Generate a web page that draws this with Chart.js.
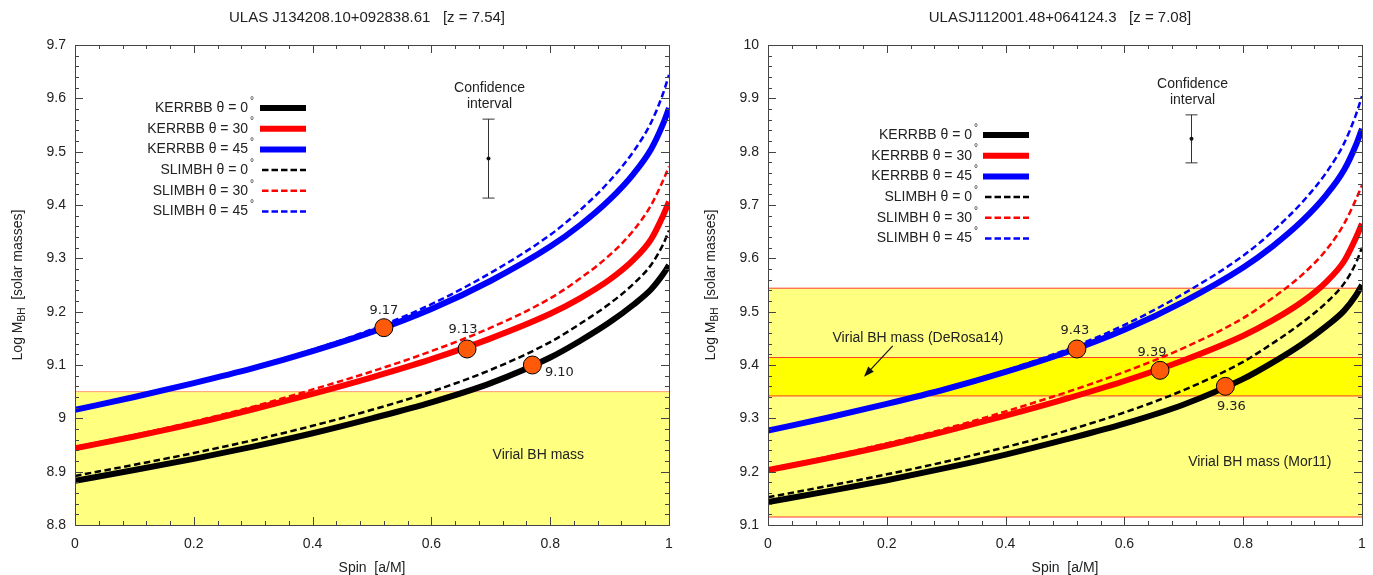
<!DOCTYPE html>
<html>
<head>
<meta charset="utf-8">
<script src="https://cdn.jsdelivr.net/npm/chart.js@4.4.0/dist/chart.umd.min.js"></script>
<style>
  html, body { margin: 0; padding: 0; background: #fff; }
  #wrap { display: flex; width: 1373px; height: 575px; }
  .panel { position: relative; height: 575px; }
</style>
</head>
<body>
<div id="wrap">
  <div class="panel" style="width:686px"><canvas id="left"></canvas></div>
  <div class="panel" style="width:687px"><canvas id="right"></canvas></div>
</div>
<script>
// spin grid shared by every model curve
const spin = [0, 0.1, 0.2, 0.3, 0.4, 0.5, 0.6, 0.7, 0.8, 0.85, 0.9, 0.94, 0.97, 0.99, 1];

const modelNames = ['KERRBB', 'KERRBB', 'KERRBB', 'SLIMBH', 'SLIMBH', 'SLIMBH'];
const inclinations = [0, 30, 45, 0, 30, 45];

// ULAS J134208.10+092838.61
const j1342Kerr0  = [8.883, 8.903, 8.924, 8.947, 8.972, 9.000, 9.030, 9.066, 9.114, 9.145, 9.180, 9.213, 9.242, 9.270, 9.287];
const j1342Kerr30 = [8.944, 8.966, 8.990, 9.017, 9.046, 9.077, 9.111, 9.150, 9.196, 9.225, 9.260, 9.297, 9.336, 9.380, 9.406];
const j1342Kerr45 = [9.016, 9.040, 9.066, 9.094, 9.126, 9.162, 9.205, 9.258, 9.322, 9.362, 9.410, 9.458, 9.505, 9.552, 9.582];
const j1342Slim0  = [8.892, 8.913, 8.935, 8.959, 8.986, 9.016, 9.050, 9.091, 9.143, 9.177, 9.215, 9.252, 9.288, 9.326, 9.352];
const j1342Slim30 = [8.946, 8.969, 8.994, 9.022, 9.054, 9.088, 9.126, 9.170, 9.225, 9.262, 9.306, 9.352, 9.400, 9.446, 9.472];
const j1342Slim45 = [9.016, 9.041, 9.067, 9.096, 9.129, 9.167, 9.214, 9.273, 9.344, 9.390, 9.445, 9.500, 9.555, 9.609, 9.644];
const j1342VirialTop = 9.05;
const j1342Conf = { spin: 0.695, mass: 9.487, half: 0.074 };

// ULASJ112001.48+064124.3
const j1120Kerr0  = [9.143, 9.163, 9.184, 9.207, 9.232, 9.260, 9.290, 9.326, 9.374, 9.405, 9.440, 9.473, 9.502, 9.531, 9.550];
const j1120Kerr30 = [9.203, 9.225, 9.249, 9.276, 9.305, 9.336, 9.370, 9.409, 9.455, 9.484, 9.519, 9.556, 9.595, 9.639, 9.665];
const j1120Kerr45 = [9.277, 9.301, 9.327, 9.355, 9.387, 9.423, 9.466, 9.519, 9.583, 9.623, 9.671, 9.719, 9.766, 9.813, 9.843];
const j1120Slim0  = [9.152, 9.173, 9.195, 9.219, 9.246, 9.276, 9.311, 9.353, 9.406, 9.441, 9.480, 9.517, 9.553, 9.592, 9.620];
const j1120Slim30 = [9.205, 9.228, 9.253, 9.281, 9.313, 9.348, 9.387, 9.432, 9.488, 9.526, 9.570, 9.616, 9.665, 9.711, 9.737];
const j1120Slim45 = [9.278, 9.302, 9.328, 9.357, 9.390, 9.428, 9.475, 9.534, 9.605, 9.651, 9.706, 9.761, 9.816, 9.870, 9.904];
const j1120Mor11    = [9.115, 9.544];
const j1120DeRosa14 = [9.342, 9.414];
const j1120Conf = { spin: 0.712, mass: 9.824, half: 0.045 };

// best-fit spins and masses (orange dots)
const peakSpin  = [0.52, 0.66, 0.77];
const j1342Peak = [9.17, 9.13, 9.10];
const j1120Peak = [9.43, 9.39, 9.36];

const curveColors = ['#000000', '#ff0000', '#0000ff', '#000000', '#ff0000', '#0000ff'];
const FONT = '"Liberation Sans", Arial, sans-serif';

const panels = [
  {
    id: 'left',
    title: 'ULAS J134208.10+092838.61   [z = 7.54]',
    yMin: 8.8, yMax: 9.7, yWidth: 75, padRight: 17,
    curves: [j1342Kerr0, j1342Kerr30, j1342Kerr45, j1342Slim0, j1342Slim30, j1342Slim45],
    peaks: j1342Peak,
    peakLabelOffset: [[0, -17], [-4, -19], [27, 8]],
    bands: [{ lo: null, hi: j1342VirialTop, fill: '#ffff80', edge: '#ff9a70' }],
    conf: j1342Conf,
    legend: { right: 173, sample: 185, top: 63 },
    notes: [{ text: 'Virial BH mass', s: 0.78, m: 8.931 }],
    arrow: null
  },
  {
    id: 'right',
    title: 'ULASJ112001.48+064124.3   [z = 7.08]',
    yMin: 9.1, yMax: 10, yWidth: 82, padRight: 11,
    curves: [j1120Kerr0, j1120Kerr30, j1120Kerr45, j1120Slim0, j1120Slim30, j1120Slim45],
    peaks: j1120Peak,
    peakLabelOffset: [[-2, -18], [-8, -18], [6, 20]],
    bands: [
      { lo: j1120Mor11[0], hi: j1120Mor11[1], fill: '#ffff80', edge: '#ff3a2a' },
      { lo: j1120DeRosa14[0], hi: j1120DeRosa14[1], fill: '#ffff00', edge: '#ff3a2a' }
    ],
    conf: j1120Conf,
    legend: { right: 204, sample: 215, top: 90 },
    notes: [
      { text: 'Virial BH mass (Mor11)', s: 0.828, m: 9.218 },
      { text: 'Virial BH mass (DeRosa14)', s: 0.2525, m: 9.451 }
    ],
    arrow: { s0: 0.21, m0: 9.436, s1: 0.1616, m1: 9.378 }
  }
];

function line(values) {
  return values.map((v, i) => ({ x: spin[i], y: v }));
}

function flat(v) {
  return [{ x: 0, y: v }, { x: 1, y: v }];
}

function buildDatasets(p) {
  const ds = [];
  // orange best-fit dots, drawn on top
  ds.push({
    data: peakSpin.map((s, i) => ({ x: s, y: p.peaks[i] })),
    showLine: false,
    pointRadius: 9,
    pointBackgroundColor: '#ff5a0a',
    pointBorderColor: '#000',
    pointBorderWidth: 1,
    order: 0
  });
  p.curves.forEach((vals, i) => {
    const dashed = i >= 3;
    ds.push({
      data: line(vals),
      borderColor: curveColors[i],
      borderWidth: dashed ? 2.5 : 6,
      borderDash: dashed ? [6.5, 3.5] : [],
      pointRadius: 0,
      cubicInterpolationMode: 'monotone',
      fill: false,
      order: dashed ? 5 : 10
    });
  });
  p.bands.forEach((b, k) => {
    const ord = 40 - k * 5;
    if (b.lo !== null) {
      ds.push({
        data: flat(b.lo), borderColor: b.edge, borderWidth: 1,
        pointRadius: 0, fill: false, order: ord
      });
    }
    ds.push({
      data: flat(b.hi), borderColor: b.edge, borderWidth: 1,
      pointRadius: 0, backgroundColor: b.fill,
      fill: b.lo !== null ? '-1' : 'start', order: ord
    });
  });
  return ds;
}

function makeDecor(p) {
  return {
    id: 'decor_' + p.id,
    afterDraw(chart) {
      const { ctx, chartArea: a, scales: { x, y } } = chart;
      ctx.save();

      // frame with inward ticks on all sides
      ctx.strokeStyle = '#444';
      ctx.lineWidth = 1;
      ctx.strokeRect(a.left + 0.5, a.top + 0.5, a.right - a.left, a.bottom - a.top);
      ctx.beginPath();
      for (let i = 0; i <= 25; i++) {
        const px = Math.round(x.getPixelForValue(i * 0.04)) + 0.5;
        const len = i % 5 === 0 ? 8 : 4;
        ctx.moveTo(px, a.bottom); ctx.lineTo(px, a.bottom - len);
        ctx.moveTo(px, a.top); ctx.lineTo(px, a.top + len);
      }
      for (let i = 0; i <= 45; i++) {
        const py = Math.round(y.getPixelForValue(p.yMin + i * 0.02)) + 0.5;
        const len = i % 5 === 0 ? 8 : 4;
        ctx.moveTo(a.left, py); ctx.lineTo(a.left + len, py);
        ctx.moveTo(a.right, py); ctx.lineTo(a.right - len, py);
      }
      ctx.stroke();

      ctx.fillStyle = '#222';
      const cx = (a.left + a.right) / 2;

      // title
      ctx.font = '15px ' + FONT;
      ctx.textAlign = 'center';
      ctx.textBaseline = 'middle';
      ctx.fillText(p.title, cx - 5, 18);

      // x title
      ctx.font = '14px ' + FONT;
      ctx.fillText('Spin  [a/M]', cx, 568);

      // y title with subscript
      ctx.save();
      ctx.translate(a.left - 57, (a.top + a.bottom) / 2);
      ctx.rotate(-Math.PI / 2);
      const t1 = 'Log M', t2 = 'BH', t3 = '  [solar masses]';
      ctx.font = '14px ' + FONT;
      const w1 = ctx.measureText(t1).width, w3 = ctx.measureText(t3).width;
      ctx.font = '10px ' + FONT;
      const w2 = ctx.measureText(t2).width;
      let tx = -(w1 + w2 + w3) / 2;
      ctx.textAlign = 'left';
      ctx.font = '14px ' + FONT;
      ctx.fillText(t1, tx, 0); tx += w1;
      ctx.font = '10px ' + FONT;
      ctx.fillText(t2, tx, 4); tx += w2;
      ctx.font = '14px ' + FONT;
      ctx.fillText(t3, tx, 0);
      ctx.restore();

      // legend
      const lg = p.legend;
      for (let i = 0; i < 6; i++) {
        const ly = a.top + lg.top + i * 20.7;
        ctx.fillStyle = '#222';
        ctx.font = '14px ' + FONT;
        ctx.textAlign = 'right';
        ctx.textBaseline = 'middle';
        ctx.fillText(modelNames[i] + ' \u03b8 = ' + inclinations[i], a.left + lg.right, ly);
        ctx.font = '10px ' + FONT;
        ctx.textAlign = 'left';
        ctx.fillText('\u00b0', a.left + lg.right + 2, ly - 7);
        const dashed = i >= 3;
        ctx.strokeStyle = curveColors[i];
        ctx.lineWidth = dashed ? 2.5 : 6;
        ctx.setLineDash(dashed ? [6.5, 3] : []);
        ctx.beginPath();
        ctx.moveTo(a.left + lg.sample + (dashed ? 2 : 0), ly);
        ctx.lineTo(a.left + lg.sample + 46, ly);
        ctx.stroke();
        ctx.setLineDash([]);
      }

      // confidence interval
      const c = p.conf;
      const ex = Math.round(x.getPixelForValue(c.spin)) + 0.5;
      const eTop = y.getPixelForValue(c.mass + c.half);
      const eBot = y.getPixelForValue(c.mass - c.half);
      ctx.strokeStyle = '#333';
      ctx.lineWidth = 1;
      ctx.beginPath();
      ctx.moveTo(ex, eTop); ctx.lineTo(ex, eBot);
      ctx.moveTo(ex - 6, eTop); ctx.lineTo(ex + 6, eTop);
      ctx.moveTo(ex - 6, eBot); ctx.lineTo(ex + 6, eBot);
      ctx.stroke();
      ctx.beginPath();
      ctx.arc(ex, y.getPixelForValue(c.mass), 2, 0, Math.PI * 2);
      ctx.fillStyle = '#111';
      ctx.fill();
      ctx.fillStyle = '#222';
      ctx.font = '14px ' + FONT;
      ctx.textAlign = 'center';
      ctx.fillText('Confidence', ex + 1, eTop - 31);
      ctx.fillText('interval', ex + 1, eTop - 15);

      // notes
      p.notes.forEach(n => {
        ctx.fillText(n.text, x.getPixelForValue(n.s), y.getPixelForValue(n.m));
      });

      // arrow
      if (p.arrow) {
        const r = p.arrow;
        const x0 = x.getPixelForValue(r.s0), y0 = y.getPixelForValue(r.m0);
        const x1 = x.getPixelForValue(r.s1), y1 = y.getPixelForValue(r.m1);
        const ang = Math.atan2(y1 - y0, x1 - x0);
        ctx.strokeStyle = '#111';
        ctx.lineWidth = 1.2;
        ctx.beginPath();
        ctx.moveTo(x0, y0); ctx.lineTo(x1 - 6 * Math.cos(ang), y1 - 6 * Math.sin(ang));
        ctx.stroke();
        ctx.beginPath();
        ctx.moveTo(x1, y1);
        ctx.lineTo(x1 - 11 * Math.cos(ang - 0.35), y1 - 11 * Math.sin(ang - 0.35));
        ctx.lineTo(x1 - 11 * Math.cos(ang + 0.35), y1 - 11 * Math.sin(ang + 0.35));
        ctx.closePath();
        ctx.fillStyle = '#111';
        ctx.fill();
      }

      // peak labels
      const meta = chart.getDatasetMeta(0);
      ctx.fillStyle = '#222';
      ctx.font = '13px "DejaVu Sans", sans-serif';
      ctx.textAlign = 'center';
      meta.data.forEach((pt, i) => {
        const off = p.peakLabelOffset[i];
        ctx.fillText(p.peaks[i].toFixed(2), pt.x + off[0], pt.y + off[1]);
      });

      ctx.restore();
    }
  };
}

const tickText = v => String(Number(v.toFixed(2)));

panels.forEach(p => {
  new Chart(document.getElementById(p.id), {
    type: 'line',
    data: { datasets: buildDatasets(p) },
    options: {
      responsive: true,
      maintainAspectRatio: false,
      animation: false,
      events: [],
      layout: { padding: { top: 45, right: p.padRight, left: 0, bottom: 0 } },
      plugins: { legend: { display: false }, tooltip: { enabled: false }, title: { display: false } },
      scales: {
        x: {
          type: 'linear', min: 0, max: 1,
          grid: { display: false, drawTicks: false },
          border: { display: false },
          ticks: { stepSize: 0.2, padding: 11, color: '#222', font: { family: FONT, size: 14 }, callback: tickText },
          afterFit: s => { s.height = 50; s.paddingLeft = 0; s.paddingRight = 0; }
        },
        y: {
          type: 'linear', min: p.yMin, max: p.yMax,
          grid: { display: false, drawTicks: false },
          border: { display: false },
          ticks: { stepSize: 0.1, padding: 9, color: '#222', font: { family: FONT, size: 14 }, callback: tickText },
          afterFit: s => { s.width = p.yWidth; s.paddingTop = 0; s.paddingBottom = 0; }
        }
      }
    },
    plugins: [makeDecor(p)]
  });
});
</script>
</body>
</html>
